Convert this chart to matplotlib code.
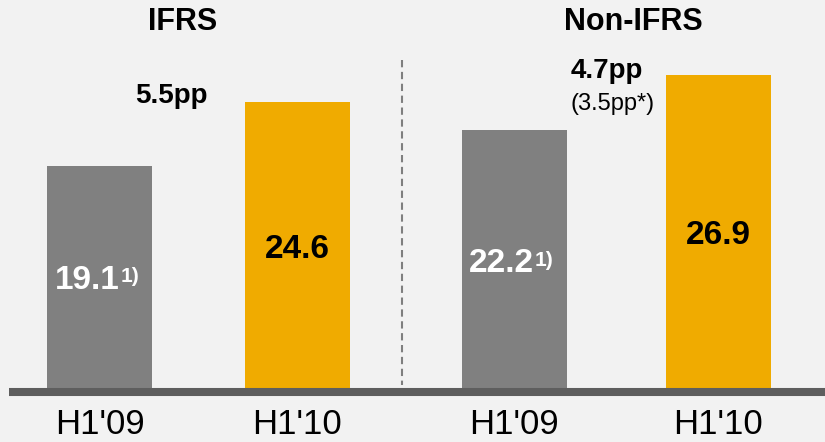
import matplotlib
matplotlib.use("Agg")
import matplotlib.pyplot as plt

# operating margin, percent
periods = ["H1'09", "H1'10", "H1'09", "H1'10"]
margins = [19.1, 24.6, 22.2, 26.9]
groups = ["IFRS", "Non-IFRS"]
deltas = ["5.5pp", "4.7pp"]
delta_note = "(3.5pp*)"
footnote_marks = ["1)", "", "1)", ""]

GREY = "#808080"
GOLD = "#f0ab00"
BG = "#f2f2f2"

plt.rcParams["font.family"] = ["Liberation Sans", "DejaVu Sans"]

W, H = 825, 442
BASE = 388.0       # pixel row of the zero line
SCALE = 11.62      # pixels per percentage point


def yv(py):
    # pixel row (from top) -> data value
    return (BASE - py) / SCALE


fig = plt.figure(figsize=(W / 100, H / 100), dpi=100, facecolor=BG)
ax = fig.add_axes([0, 0, 1, 1])
ax.set_facecolor(BG)
ax.set_xlim(0, W)
ax.set_ylim(yv(H), yv(0))
ax.axis("off")

xs = [99.5, 297, 514, 718.5]
colors = [GREY, GOLD, GREY, GOLD]
ax.bar(xs, margins, width=105, color=colors, zorder=2)

# thick floor line
ax.plot([9, W], [yv(392), yv(392)], color="#5e5e5e", lw=5.8,
        solid_capstyle="butt", zorder=3)

# separator between the two groups
ax.plot([402, 402], [yv(60), yv(385)], color="#7f7f7f", lw=1.5,
        linestyle=(0, (3.5, 2.2)), zorder=1)

# value labels inside the bars
label_y = [280.5, 249, 263.5, 235.5]
for i, (x, v) in enumerate(zip(xs, margins)):
    txt_color = "white" if colors[i] == GREY else "black"
    if footnote_marks[i]:
        ax.text(x + 20, yv(label_y[i]), f"{v:.1f}", color=txt_color,
                fontsize=24, fontweight="bold", ha="right", va="center",
                zorder=4)
        ax.text(x + 21, yv(label_y[i] - 3.5), footnote_marks[i], color=txt_color,
                fontsize=15, fontweight="bold", ha="left", va="center", zorder=4)
    else:
        ax.text(x, yv(label_y[i]), f"{v:.1f}", color=txt_color,
                fontsize=24, fontweight="bold", ha="center", va="center", zorder=4)

# period labels under the floor
for x, p in zip(xs, periods):
    ax.text(x, yv(425), p, fontsize=25, ha="center", va="center")

# group headers
ax.text(183, yv(22), groups[0], fontsize=22, fontweight="bold",
        ha="center", va="center")
ax.text(633, yv(22), groups[1], fontsize=22, fontweight="bold",
        ha="center", va="center")

# change annotations
ax.text(171, yv(96), deltas[0], fontsize=20, fontweight="heavy",
        ha="center", va="center")
ax.text(607, yv(71), deltas[1], fontsize=20, fontweight="heavy",
        ha="center", va="center")
ax.text(613, yv(104), delta_note, fontsize=17, ha="center", va="center")

fig.savefig("out.png", dpi=100, facecolor=BG)
